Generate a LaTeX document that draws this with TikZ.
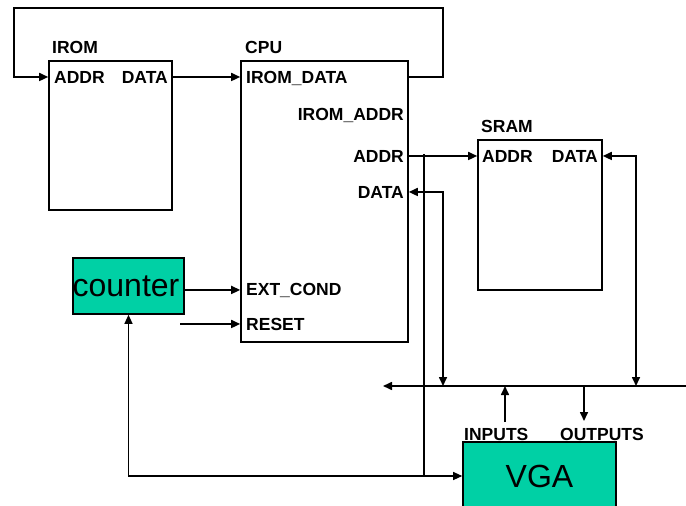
\documentclass[tikz,border=0pt]{standalone}
\usepackage{fontspec}
\setmainfont{Liberation Sans}
\usetikzlibrary{arrows.meta}
\definecolor{unitgreen}{RGB}{0,208,165}

\begin{document}
\begin{tikzpicture}[x=1pt, y=-1pt, >={Triangle[length=9pt,width=8pt]},
    block/.style={rectangle, draw, line width=1.6pt, inner sep=0pt},
    unit/.style={block, fill=unitgreen, font=\fontsize{32}{36}\selectfont},
    port/.style={font=\fontsize{17.5}{20}\selectfont\bfseries, inner sep=0pt}]
    \useasboundingbox (0,0) rectangle (686,506);

    \node [block, minimum width=123, minimum height=149] (irom) at (110.5,135.5) {};
    \node [block, minimum width=167, minimum height=281] (cpu) at (324.5,201.5) {};
    \node [block, minimum width=124, minimum height=150] (sram) at (540,215) {};
    \node [unit, minimum width=111, minimum height=56] (counter) at (128.5,286) {\hspace*{-5pt}counter};
    \node [unit, minimum width=153, minimum height=68] (vga) at (539.5,476) {VGA};

    \begin{scope}[every node/.style={port, anchor=base west}]
        \node (iromlbl) at (52,53) {IROM};
        \node (cpulbl) at (245,53) {CPU};
        \node (sramlbl) at (481,132) {SRAM};
        \node (iaddr) at (54,83) {ADDR};
        \node (cidata) at (246,83) {IROM\_DATA};
        \node (extc) at (246,295) {EXT\_COND};
        \node (rst) at (246,330) {RESET};
        \node (saddr) at (482,162) {ADDR};
        \node (inp) at (464,440) {INPUTS};
        \node (outp) at (560,440) {OUTPUTS};
    \end{scope}
    \begin{scope}[every node/.style={port, anchor=base east}]
        \node (idata) at (168,83) {DATA};
        \node (ciaddr) at (404,120) {IROM\_ADDR};
        \node (caddr) at (404,162) {ADDR};
        \node (cdata) at (404,198) {DATA};
        \node (sdata) at (598,162) {DATA};
    \end{scope}

    \coordinate (loopr) at (443,8);
    \coordinate (loopl) at (14,8);
    \coordinate (busr) at (686,386);
    \coordinate (busl) at (383,386);
    \coordinate (cpubus) at (443,386);
    \coordinate (srambus) at (636,386);
    \coordinate (vin) at (505,422);
    \coordinate (vout) at (584,421);
    \coordinate (rstin) at (180,324);
    \coordinate (tap) at (424,154);

    \begin{scope}[->, line width=1.6pt]
        \draw (cpu.east |- idata) -| (loopr) -- (loopl) |- (irom.west |- iaddr);
        \draw (irom.east |- idata) -- (cpu.west |- idata);
        \draw (cpu.east |- caddr) -- (sram.west |- caddr);
        \draw [<->] (cpu.east |- cdata) -| (cpubus);
        \draw [<->] (sram.east |- sdata) -| (srambus);
        \draw (busr) -- (busl);
        \draw (vin) -- (vin |- busl);
        \draw (vout |- busl) -- (vout);
        \draw (counter.east |- extc) -- (cpu.west |- extc);
        \draw (rstin) -- (cpu.west |- rst);
    \end{scope}

    \begin{scope}[line width=1.2pt]
        \draw (tap) -- (tap |- vga.west);
        \draw [<->] (counter.south) |- (vga.west);
    \end{scope}
\end{tikzpicture}
\end{document}
